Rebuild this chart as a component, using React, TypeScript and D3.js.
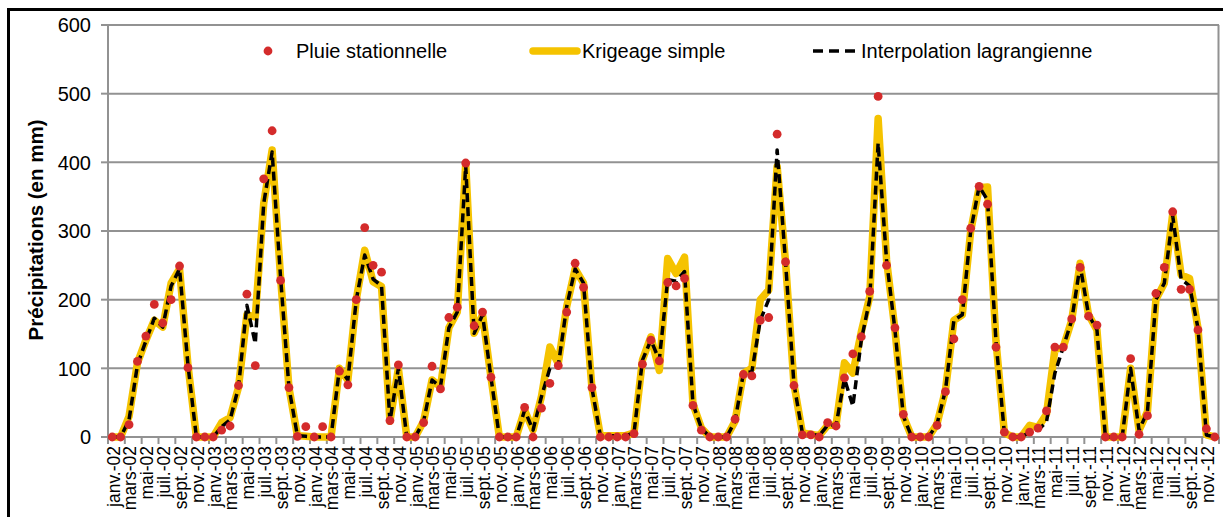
import React from "react";
import * as d3 from "d3";

const monthNames = ["janv.", "févr.", "mars", "avr.", "mai", "juin", "juil.", "août", "sept.", "oct.", "nov.", "déc."];
const years = ["02", "03", "04", "05", "06", "07", "08", "09", "10", "11", "12"];
const yTicks = [0, 100, 200, 300, 400, 500, 600];

const pluie = [
  0, 0, 18, 110, 147, 193, 166, 200, 249, 101, 0, 0,
  0, 10, 16, 75, 208, 104, 376, 446, 228, 72, 1, 15,
  0, 15, 0, 96, 76, 200, 305, 250, 240, 24, 105, 0,
  0, 21, 103, 70, 174, 189, 399, 162, 182, 87, 0, 0,
  0, 43, 0, 42, 78, 104, 182, 253, 218, 72, 0, 0,
  0, 0, 5, 106, 141, 111, 225, 220, 231, 46, 10, 0,
  0, 0, 26, 91, 89, 170, 174, 441, 255, 75, 3, 3,
  0, 21, 16, 86, 121, 146, 212, 496, 250, 159, 33, 0,
  0, 0, 17, 66, 143, 200, 304, 365, 339, 131, 7, 0,
  0, 7, 13, 38, 131, 131, 172, 247, 176, 163, 0, 0,
  0, 114, 4, 31, 209, 247, 328, 215, 215, 156, 12, 0,
];

const krigeage = [
  0, 0, 30, 108, 141, 170, 160, 224, 245, 105, 0, 0,
  0, 21, 28, 72, 178, 175, 340, 418, 233, 72, 2, 1,
  0, 0, 0, 100, 83, 200, 272, 226, 219, 23, 100, 0,
  0, 23, 83, 73, 159, 182, 398, 151, 178, 87, 0, 0,
  0, 39, 10, 59, 131, 107, 190, 245, 224, 71, 2, 2,
  2, 2, 6, 112, 146, 97, 260, 238, 262, 48, 13, 0,
  0, 0, 23, 93, 100, 200, 214, 394, 255, 77, 6, 4,
  2, 17, 17, 108, 93, 153, 204, 464, 258, 156, 30, 0,
  0, 0, 19, 68, 170, 178, 300, 363, 364, 140, 6, 0,
  0, 17, 14, 33, 127, 131, 170, 253, 178, 156, 0, 0,
  0, 100, 10, 37, 200, 224, 325, 236, 231, 159, 3, 0,
];

const lagrange = [
  0, 0, 25, 105, 140, 173, 160, 220, 245, 105, 0, 0,
  0, 15, 25, 72, 192, 136, 340, 415, 233, 72, 2, 1,
  0, 0, 0, 100, 83, 200, 265, 230, 220, 23, 100, 0,
  0, 23, 83, 73, 159, 182, 395, 151, 178, 87, 0, 0,
  0, 39, 10, 59, 100, 104, 190, 245, 224, 71, 2, 2,
  2, 2, 6, 112, 141, 112, 229, 227, 241, 48, 13, 0,
  0, 0, 23, 93, 95, 170, 200, 418, 255, 77, 6, 4,
  2, 17, 17, 85, 45, 141, 200, 428, 258, 156, 30, 0,
  0, 0, 19, 68, 170, 178, 300, 365, 345, 140, 6, 0,
  0, 7, 10, 22, 93, 131, 170, 250, 178, 156, 0, 0,
  0, 100, 10, 37, 200, 224, 322, 230, 220, 159, 3, 0,
];

const categories: string[] = years.flatMap((y) => monthNames.map((m) => `${m}-${y}`));

const FONT = "'Liberation Sans', Arial, sans-serif";

export default function App() {
  const left = 108, right = 1219, top = 25, bottom = 437;
  const x = d3.scaleBand<number>().domain(d3.range(categories.length)).range([left, right]).padding(0);
  const cx = (i: number) => (x(i) as number) + x.bandwidth() / 2;
  const y = d3.scaleLinear().domain([0, 600]).range([bottom, top]);

  const line = d3.line<number>().x((_, i) => cx(i)).y((v) => y(v)).curve(d3.curveLinear);
  const gridColor = "#929292";

  const tickPositions = d3.range(0, categories.length + 1, 2).map((i) => left + i * x.bandwidth());

  return (
    <svg
      width={1223}
      height={517}
      style={{ position: "absolute", left: 0, top: 0, background: "#fff" }}
      fontFamily={FONT}
    >
      <rect x={0} y={0} width={1223} height={517} fill="#fff" />
      {/* outer frame */}
      <rect x={8.5} y={9.5} width={1240} height={540} fill="none" stroke="#000" strokeWidth={3} />

      {/* gridlines */}
      {yTicks.filter((t) => t > 0).map((t) => (
        <line key={t} x1={left} x2={right} y1={y(t)} y2={y(t)} stroke={gridColor} strokeWidth={2} />
      ))}
      {/* right border of plot area */}
      <line x1={right - 0.5} x2={right - 0.5} y1={top} y2={bottom} stroke={gridColor} strokeWidth={2} />

      {/* y axis */}
      <line x1={left} x2={left} y1={top - 1} y2={bottom + 1} stroke={gridColor} strokeWidth={2} />
      {yTicks.map((t) => (
        <g key={t}>
          <line x1={left - 7} x2={left} y1={y(t)} y2={y(t)} stroke={gridColor} strokeWidth={2} />
          <text x={91} y={y(t)} dy="0.36em" textAnchor="end" fontSize={20} fill="#000">
            {t}
          </text>
        </g>
      ))}
      <text
        transform={`translate(36, 230) rotate(-90)`}
        textAnchor="middle"
        dy="0.36em"
        fontSize={20.5}
        fontWeight="bold"
        fill="#000"
      >
        Précipitations (en mm)
      </text>

      {/* x axis */}
      <line x1={left} x2={right} y1={bottom} y2={bottom} stroke={gridColor} strokeWidth={2} />
      {tickPositions.map((p, k) => (
        <line key={k} x1={p} x2={p} y1={bottom} y2={bottom + 7} stroke={gridColor} strokeWidth={2} />
      ))}
      {categories.map((c, i) =>
        i % 2 === 0 ? (
          <text
            key={c}
            transform={`translate(${cx(i) + 1}, 446) rotate(-90)`}
            textAnchor="end"
            dy="0.36em"
            fontSize={17.5}
            fill="#000"
          >
            {c}
          </text>
        ) : null
      )}

      {/* series */}
      <path d={line(krigeage) || ""} fill="none" stroke="#F5C300" strokeWidth={7.5} strokeLinejoin="round" strokeLinecap="round" />
      <path d={line(lagrange) || ""} fill="none" stroke="#000" strokeWidth={3.5} strokeDasharray="9 5" strokeLinejoin="round" />
      {pluie.map((v, i) => (
        <circle key={i} cx={cx(i)} cy={y(v)} r={4.4} fill="#D42B2B" />
      ))}

      {/* legend */}
      <circle cx={268} cy={51} r={4.4} fill="#D42B2B" />
      <text x={296} y={51} dy="0.36em" fontSize={20} fill="#000">Pluie stationnelle</text>
      <line x1={533} x2={577} y1={51} y2={51} stroke="#F5C300" strokeWidth={7.5} strokeLinecap="round" />
      <text x={582} y={51} dy="0.36em" fontSize={20} fill="#000">Krigeage simple</text>
      <line x1={813} x2={858} y1={51} y2={51} stroke="#000" strokeWidth={3.5} strokeDasharray="10 6" />
      <text x={861} y={51} dy="0.36em" fontSize={20} fill="#000">Interpolation lagrangienne</text>
    </svg>
  );
}
